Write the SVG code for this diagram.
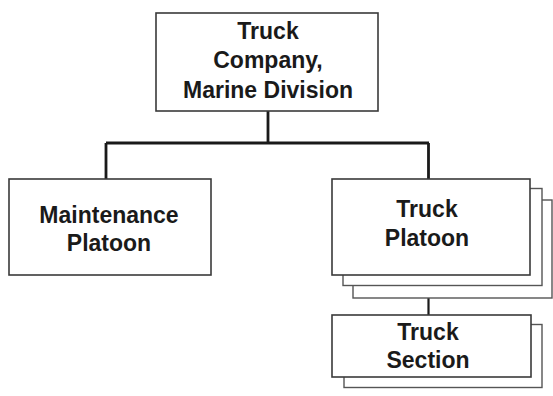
<svg xmlns="http://www.w3.org/2000/svg" width="553" height="396" viewBox="0 0 553 396">
<style>
.box{fill:#fff;stroke:#3a3a3a;stroke-width:1.6}
.sh{fill:#fff;stroke:#555;stroke-width:1.4}
.t{font-family:"Liberation Sans",Arial,sans-serif;font-weight:bold;font-size:23px;fill:#1a1a1a;text-anchor:middle}
.c{stroke:#1a1a1a;stroke-width:2.8;fill:none}
</style>
<rect width="553" height="396" fill="#fff"/>
<g id="connectors">
<path class="c" d="M268 111V143M106 143H429M106 143V179M428.5 143V179"/>
<path class="c" d="M428.5 298V315" style="stroke-width:2.2"/>
</g>
<g id="company">
<rect class="box" x="156" y="13" width="222" height="98"/>
<text class="t" x="268" y="39">Truck</text>
<text class="t" x="268" y="68">Company,</text>
<text class="t" x="268" y="98">Marine Division</text>
</g>
<g id="maintenance">
<rect class="box" x="9" y="179" width="202" height="96"/>
<text class="t" x="109" y="223">Maintenance</text>
<text class="t" x="109" y="251">Platoon</text>
</g>
<g id="truck-platoon">
<rect class="sh" x="353" y="200" width="199" height="98"/>
<rect class="sh" x="343" y="188.5" width="199" height="97"/>
<rect class="box" x="332" y="179" width="198" height="96"/>
<text class="t" x="427" y="217">Truck</text>
<text class="t" x="427" y="246">Platoon</text>
</g>
<g id="truck-section">
<rect class="sh" x="344" y="324.5" width="198" height="63"/>
<rect class="box" x="332" y="315" width="199" height="62"/>
<text class="t" x="428" y="340">Truck</text>
<text class="t" x="428" y="368">Section</text>
</g>
</svg>
